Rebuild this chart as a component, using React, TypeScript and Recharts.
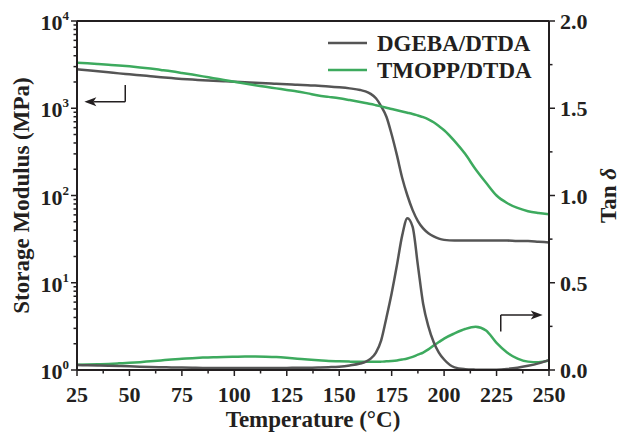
import { LineChart, Line, XAxis, YAxis, ReferenceLine, Legend, Label } from 'recharts'

// temperature (°C)
const temps = [
  25, 30, 35, 40, 45, 50, 55, 60, 65, 70, 75, 80, 85, 90, 95, 100, 105, 110, 115, 120, 125, 130, 135, 140, 145, 150, 155,
  160, 162.5, 165, 167.5, 170, 172.5, 175, 177.5, 180, 182.5, 185, 187.5, 190, 192.5, 195, 197.5, 200,
  205, 210, 215, 220, 225, 230, 235, 240, 245, 250,
]

// storage modulus (MPa)
const dgebaModulus = [
  2800, 2720, 2650, 2580, 2510, 2450, 2390, 2330, 2270, 2220, 2170, 2130, 2100, 2070, 2040, 2010, 1990, 1960, 1940, 1910, 1890, 1860, 1840, 1810, 1780, 1740, 1690,
  1620, 1560, 1460, 1300, 1050, 800, 500, 290, 160, 100, 68, 51, 42, 37, 34, 32, 31,
  30.5, 30.5, 30.5, 30.5, 30.5, 30.5, 30, 30, 29.5, 29,
]
const tmoppModulus = [
  3320, 3270, 3210, 3150, 3090, 3020, 2940, 2850, 2750, 2650, 2540, 2430, 2320, 2210, 2110, 2010, 1920, 1840, 1760, 1690, 1620, 1560, 1480, 1400, 1350, 1300, 1240,
  1180, 1150, 1120, 1085, 1050, 1015, 980, 950, 920, 890, 860, 825, 790, 745, 690, 625, 560,
  420, 300, 200, 140, 100, 82, 72, 66, 63, 61,
]

// tan delta
const dgebaTan = [
  0.028, 0.027, 0.026, 0.025, 0.023, 0.021, 0.019, 0.017, 0.016, 0.015, 0.014, 0.013, 0.012, 0.012, 0.012, 0.012, 0.012, 0.012, 0.012, 0.012, 0.012, 0.013, 0.013, 0.014, 0.016, 0.019, 0.026,
  0.037, 0.046, 0.065, 0.1, 0.17, 0.3, 0.44, 0.6, 0.77, 0.87, 0.82, 0.6, 0.38, 0.25, 0.16, 0.1, 0.06,
  0.015, 0.005, 0.002, 0.001, 0.002, 0.006, 0.013, 0.024, 0.038, 0.057,
]
const tmoppTan = [
  0.03, 0.031, 0.033, 0.035, 0.038, 0.041, 0.045, 0.05, 0.055, 0.06, 0.064, 0.068, 0.071, 0.073, 0.075, 0.076, 0.077, 0.077, 0.076, 0.074, 0.07, 0.065, 0.06, 0.056, 0.052, 0.05, 0.048,
  0.047, 0.047, 0.047, 0.047, 0.048, 0.05, 0.052, 0.055, 0.06, 0.066, 0.075, 0.088, 0.1, 0.118, 0.14, 0.16, 0.18,
  0.21, 0.235, 0.248, 0.226, 0.155, 0.1, 0.065, 0.048, 0.045, 0.055,
]

const seriesNames = ['DGEBA/DTDA', 'TMOPP/DTDA']

const tempTicks = [25, 37.5, 50, 62.5, 75, 87.5, 100, 112.5, 125, 137.5, 150, 162.5, 175, 187.5, 200, 212.5, 225, 237.5, 250]
const modulusTicks = [
  1, 2, 3, 4, 5, 6, 7, 8, 9,
  10, 20, 30, 40, 50, 60, 70, 80, 90,
  100, 200, 300, 400, 500, 600, 700, 800, 900,
  1000, 2000, 3000, 4000, 5000, 6000, 7000, 8000, 9000,
  10000,
]
const tanTicks = [0, 0.25, 0.5, 0.75, 1, 1.25, 1.5, 1.75, 2]

// arrow annotations (data coordinates)
const leftArrow = { x: 48, yTop: 1850, yElbow: 1190, xTip: 28.5 }
const rightArrow = { x: 227, yBottom: 0.22, yElbow: 0.315, xTip: 247 }

const GRAY = '#555555'
const GREEN = '#3daa5e'
const INK = '#231f20'
const FONT = '"Liberation Serif", "Times New Roman", serif'

const chartData = temps.map((t, i) => ({
  t,
  dgebaE: dgebaModulus[i],
  tmoppE: tmoppModulus[i],
  dgebaTan: dgebaTan[i],
  tmoppTan: tmoppTan[i],
}))

function ModulusTick({ x, y, payload }: any) {
  const exp = Math.log10(payload.value)
  const major = Math.abs(exp - Math.round(exp)) < 1e-6
  return (
    <g>
      <line x1={x} y1={y} x2={x - (major ? 6 : 3.5)} y2={y} stroke={INK} strokeWidth={1.5} />
      {major && (
        <text x={x - 8} y={y + 9} textAnchor="end" fontFamily={FONT} fontWeight="bold" fontSize={22} fill={INK}>
          10<tspan dy={-10} fontSize={13}>{Math.round(exp)}</tspan>
        </text>
      )}
    </g>
  )
}

function TempTick({ x, y, payload }: any) {
  const major = payload.value % 25 === 0
  return (
    <g>
      <line x1={x} y1={y} x2={x} y2={y + (major ? 6 : 3.5)} stroke={INK} strokeWidth={1.5} />
      {major && (
        <text x={x} y={y + 32} textAnchor="middle" fontFamily={FONT} fontWeight="bold" fontSize={22} fill={INK}>
          {payload.value}
        </text>
      )}
    </g>
  )
}

function TanTick({ x, y, payload }: any) {
  const major = (payload.value * 2) % 1 === 0
  return (
    <g>
      <line x1={x} y1={y} x2={x + (major ? 6 : 3.5)} y2={y} stroke={INK} strokeWidth={1.5} />
      {major && (
        <text x={x + 11} y={y + 8} textAnchor="start" fontFamily={FONT} fontWeight="bold" fontSize={22} fill={INK}>
          {payload.value.toFixed(1)}
        </text>
      )}
    </g>
  )
}

function ArrowLine(props: any) {
  const { x1, y1, x2, y2 } = props
  const ang = Math.atan2(y2 - y1, x2 - x1)
  const len = 12
  const half = 4.5
  const cos = Math.cos(ang)
  const sin = Math.sin(ang)
  const bx = x2 - len * cos
  const by = y2 - len * sin
  const nx = x2 - (len - 3) * cos
  const ny = y2 - (len - 3) * sin
  return (
    <g>
      <line x1={x1} y1={y1} x2={nx} y2={ny} stroke={INK} strokeWidth={1.5} />
      <polygon
        points={`${x2},${y2} ${bx - sin * half},${by + cos * half} ${nx},${ny} ${bx + sin * half},${by - cos * half}`}
        fill={INK}
      />
    </g>
  )
}

function LegendBox() {
  const colors = [GRAY, GREEN]
  return (
    <div style={{ fontFamily: FONT, fontWeight: 'bold', fontSize: 23, color: INK }}>
      {seriesNames.map((name, i) => (
        <div key={name} style={{ display: 'flex', alignItems: 'center', height: 27 }}>
          <svg width={39} height={4} style={{ display: 'block' }}>
            <line x1={0} y1={2} x2={39} y2={2} stroke={colors[i]} strokeWidth={2.5} />
          </svg>
          <span style={{ marginLeft: 10, lineHeight: '27px', whiteSpace: 'nowrap' }}>{name}</span>
        </div>
      ))}
    </div>
  )
}

export default function App() {
  return (
    <div style={{ position: 'absolute', left: 0, top: 0, background: '#fff' }}>
      <LineChart width={620} height={433} data={chartData} margin={{ top: 21, right: 0, bottom: 0, left: 0 }}>
        <XAxis
          dataKey="t"
          type="number"
          domain={[25, 250]}
          ticks={tempTicks}
          interval={0}
          height={63}
          tickSize={0}
          tickMargin={0}
          tickLine={false}
          tick={<TempTick />}
          axisLine={{ stroke: INK, strokeWidth: 2 }}
          allowDataOverflow
        >
          <Label
            content={({ viewBox }: any) => (
              <text
                x={viewBox.x + viewBox.width / 2}
                y={viewBox.y + 57}
                textAnchor="middle"
                fontFamily={FONT}
                fontWeight="bold"
                fontSize={23}
                fill={INK}
              >
                Temperature (°C)
              </text>
            )}
          />
        </XAxis>
        <YAxis
          yAxisId="left"
          orientation="left"
          scale="log"
          type="number"
          domain={[1, 10000]}
          ticks={modulusTicks}
          interval={0}
          width={77}
          tickSize={0}
          tickMargin={0}
          tickLine={false}
          tick={<ModulusTick />}
          axisLine={{ stroke: INK, strokeWidth: 2 }}
          allowDataOverflow
        >
          <Label
            content={({ viewBox }: any) => (
              <text
                x={29}
                y={viewBox.y + viewBox.height / 2}
                transform={`rotate(-90, 29, ${viewBox.y + viewBox.height / 2})`}
                textAnchor="middle"
                fontFamily={FONT}
                fontWeight="bold"
                fontSize={23}
                fill={INK}
              >
                Storage Modulus (MPa)
              </text>
            )}
          />
        </YAxis>
        <YAxis
          yAxisId="right"
          orientation="right"
          type="number"
          domain={[0, 2]}
          ticks={tanTicks}
          interval={0}
          width={71}
          tickSize={0}
          tickMargin={0}
          tickLine={false}
          tick={<TanTick />}
          axisLine={{ stroke: INK, strokeWidth: 2 }}
          allowDataOverflow
        >
          <Label
            content={({ viewBox }: any) => {
              const cy = viewBox.y + viewBox.height / 2
              const cx = viewBox.x + 67
              return (
                <text
                  x={cx}
                  y={cy}
                  transform={`rotate(-90, ${cx}, ${cy})`}
                  textAnchor="middle"
                  fontFamily={FONT}
                  fontWeight="bold"
                  fontSize={23}
                  fill={INK}
                >
                  Tan <tspan fontStyle="italic">δ</tspan>
                </text>
              )
            }}
          />
        </YAxis>
        <ReferenceLine yAxisId="left" y={10000} stroke={INK} strokeWidth={2} />
        <Legend
          layout="vertical"
          align="center"
          verticalAlign="middle"
          content={<LegendBox />}
          wrapperStyle={{ top: 29.5, left: 328, width: 'auto' }}
        />
        <Line yAxisId="left" dataKey="dgebaE" name={seriesNames[0]} type="monotone" stroke={GRAY} strokeWidth={2.5} dot={false} isAnimationActive={false} />
        <Line yAxisId="left" dataKey="tmoppE" name={seriesNames[1]} type="monotone" stroke={GREEN} strokeWidth={2.5} dot={false} isAnimationActive={false} />
        <Line yAxisId="right" dataKey="tmoppTan" name={seriesNames[1]} type="monotone" stroke={GREEN} strokeWidth={2.5} dot={false} isAnimationActive={false} legendType="none" />
        <Line yAxisId="right" dataKey="dgebaTan" name={seriesNames[0]} type="monotone" stroke={GRAY} strokeWidth={2.5} dot={false} isAnimationActive={false} legendType="none" />
        <ReferenceLine
          yAxisId="left"
          segment={[{ x: leftArrow.x, y: leftArrow.yTop }, { x: leftArrow.x, y: leftArrow.yElbow }]}
          stroke={INK}
          strokeWidth={1.5}
        />
        <ReferenceLine
          yAxisId="left"
          segment={[{ x: leftArrow.x, y: leftArrow.yElbow }, { x: leftArrow.xTip, y: leftArrow.yElbow }]}
          shape={<ArrowLine />}
        />
        <ReferenceLine
          yAxisId="right"
          segment={[{ x: rightArrow.x, y: rightArrow.yBottom }, { x: rightArrow.x, y: rightArrow.yElbow }]}
          stroke={INK}
          strokeWidth={1.5}
        />
        <ReferenceLine
          yAxisId="right"
          segment={[{ x: rightArrow.x, y: rightArrow.yElbow }, { x: rightArrow.xTip, y: rightArrow.yElbow }]}
          shape={<ArrowLine />}
        />
      </LineChart>
    </div>
  )
}
